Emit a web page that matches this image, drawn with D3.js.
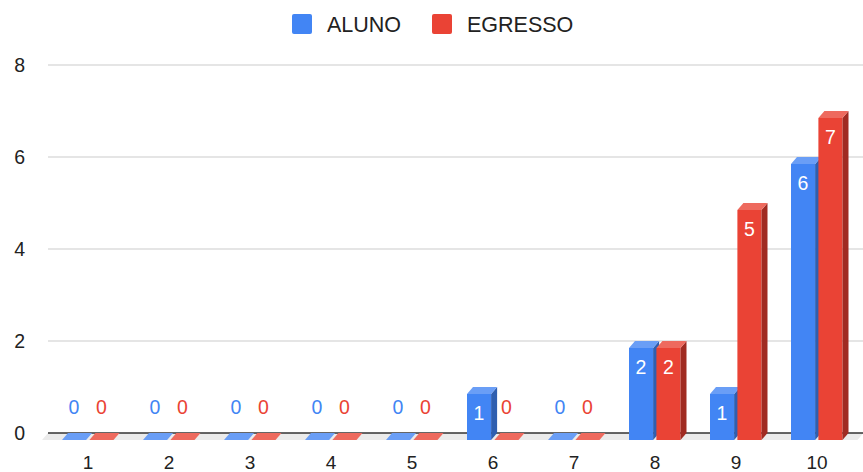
<!DOCTYPE html>
<html lang="pt">
<head>
<meta charset="UTF-8">
<title>ALUNO x EGRESSO</title>
<script src="https://cdnjs.cloudflare.com/ajax/libs/d3/7.8.5/d3.min.js"></script>
<style>
  body { margin: 0; background: #fff; }
  svg { display: block; font-family: "Liberation Sans", Arial, sans-serif; }
</style>
</head>
<body>
<div id="chart"></div>
<script>
const categories = ["1", "2", "3", "4", "5", "6", "7", "8", "9", "10"];
const seriesNames = ["ALUNO", "EGRESSO"];
const aluno = [0, 0, 0, 0, 0, 1, 0, 2, 1, 6];
const egresso = [0, 0, 0, 0, 0, 0, 0, 2, 5, 7];
const yTicks = [0, 2, 4, 6, 8];

const width = 863, height = 472;
const depthX = 6, depthY = 7;   // 3d offset of back plane

const colors = {
  ALUNO: { front: "#4285f4", side: "#2f5fb0", top: "#6a9ef6" },
  EGRESSO: { front: "#ea4335", side: "#a02b22", top: "#ee6a5e" }
};

const svg = d3.select("#chart").append("svg")
  .attr("width", width).attr("height", height);

// back plane scale (gridlines), front = back shifted by (-depthX, +depthY)
const y = d3.scaleLinear().domain([0, 8]).range([433, 65]);
const x = d3.scaleBand().domain(categories).range([47.5, 857.5]);
const xs = d3.scaleBand().domain(seriesNames).range([-26, 25.5]).paddingInner(0.12);

// floor
const fx0 = 42, fx1 = 857.5;
svg.append("polygon")
  .attr("points", [[fx0, y(0) + depthY], [fx1, y(0) + depthY], [fx1 + depthX, y(0)], [fx0 + depthX, y(0)]].join(" "))
  .attr("fill", "#ebebeb");

// gridlines
svg.append("g").selectAll("line").data(yTicks).join("line")
  .attr("x1", 48).attr("x2", width)
  .attr("y1", d => y(d)).attr("y2", d => y(d))
  .attr("stroke", d => d === 0 ? "#333" : "#ccc")
  .attr("stroke-width", d => d === 0 ? 1.5 : 1.2);

// y labels
svg.append("g").selectAll("text").data(yTicks).join("text")
  .attr("x", 25).attr("y", d => y(d))
  .attr("dy", "0.35em")
  .attr("text-anchor", "end")
  .attr("font-size", 19.5).attr("fill", "#222")
  .text(d => d);

// x labels
svg.append("g").selectAll("text").data(categories).join("text")
  .attr("x", d => x(d) + x.bandwidth() / 2).attr("y", 462)
  .attr("dy", "0.35em")
  .attr("text-anchor", "middle")
  .attr("font-size", 19).attr("fill", "#222")
  .text(d => d);

// bars
const rows = [];
categories.forEach((c, i) => {
  rows.push({ cat: c, s: "ALUNO", v: aluno[i] });
  rows.push({ cat: c, s: "EGRESSO", v: egresso[i] });
});

const bars = svg.append("g").selectAll("g").data(rows).join("g");

bars.each(function (d) {
  const g = d3.select(this);
  const cx = x(d.cat) + x.bandwidth() / 2;
  const x0 = cx + xs(d.s), x1 = x0 + xs.bandwidth();
  const yb = y(0) + depthY, yt = y(d.v) + depthY;
  const col = colors[d.s];
  if (d.v > 0) {
    g.append("rect")
      .attr("x", x0).attr("y", yt)
      .attr("width", x1 - x0).attr("height", yb - yt)
      .attr("fill", col.front);
    g.append("polygon")
      .attr("points", [[x1, yt], [x1 + depthX, yt - depthY], [x1 + depthX, yb - depthY], [x1, yb]].join(" "))
      .attr("fill", col.side);
  }
  g.append("polygon")
    .attr("points", [[x0, yt], [x1, yt], [x1 + depthX, yt - depthY], [x0 + depthX, yt - depthY]].join(" "))
    .attr("fill", col.top);

  g.append("text")
    .attr("x", (x0 + x1) / 2)
    .attr("y", d.v > 0 ? yt + 19 : yb - 33)
    .attr("dy", "0.35em")
    .attr("text-anchor", "middle")
    .attr("font-size", 19.5)
    .attr("fill", d.v > 0 ? "#fff" : col.front)
    .text(d.v);
});

// legend
const legend = svg.append("g");
const legendItems = [
  { s: "ALUNO", rx: 292, tx: 327 },
  { s: "EGRESSO", rx: 432, tx: 467 }
];
legendItems.forEach(it => {
  legend.append("rect")
    .attr("x", it.rx).attr("y", 14).attr("width", 20).attr("height", 20)
    .attr("rx", 2).attr("fill", colors[it.s].front);
  legend.append("text")
    .attr("x", it.tx).attr("y", 24).attr("dy", "0.35em")
    .attr("font-size", 21.5).attr("fill", "#222")
    .text(it.s);
});
</script>
</body>
</html>
